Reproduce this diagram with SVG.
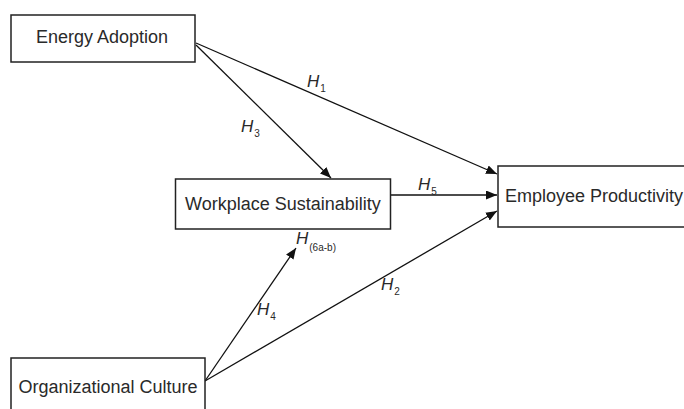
<svg xmlns="http://www.w3.org/2000/svg" width="684" height="409" viewBox="0 0 684 409">
  <style>
    .box { fill: #ffffff; stroke: #222222; stroke-width: 1.5; }
    .label { font-family: "Liberation Sans", Arial, sans-serif; font-size: 18px; fill: #2a2a2a; text-anchor: middle; }
    .conn { stroke: #111111; stroke-width: 1.3; fill: none; }
    .h { font-family: "Liberation Sans", Arial, sans-serif; font-size: 17px; font-style: italic; fill: #2a2a2a; }
    .sub { font-family: "Liberation Sans", Arial, sans-serif; font-size: 10px; font-style: normal; fill: #2a2a2a; }
  </style>
  <defs>
    <marker id="arrow" markerUnits="userSpaceOnUse" markerWidth="12" markerHeight="10" refX="11" refY="4.5" orient="auto">
      <path d="M0,0 L11,4.5 L0,9 Z" fill="#111111"/>
    </marker>
  </defs>
  <rect width="684" height="409" fill="#ffffff"/>

  <g id="connectors">
    <line class="conn" x1="196" y1="43" x2="497" y2="174" marker-end="url(#arrow)"/>
    <line class="conn" x1="196" y1="45" x2="331" y2="178" marker-end="url(#arrow)"/>
    <line class="conn" x1="390" y1="195" x2="497" y2="195" marker-end="url(#arrow)"/>
    <line class="conn" x1="205" y1="381" x2="497" y2="211" marker-end="url(#arrow)"/>
    <line class="conn" x1="205" y1="381" x2="296" y2="248" marker-end="url(#arrow)"/>
  </g>

  <g id="labels">
    <text class="h" x="307" y="87">H<tspan class="sub" dx="1" dy="5">1</tspan></text>
    <text class="h" x="241" y="132">H<tspan class="sub" dx="1" dy="5">3</tspan></text>
    <text class="h" x="418" y="190">H<tspan class="sub" dx="1" dy="5">5</tspan></text>
    <text class="h" x="296" y="244">H<tspan class="sub" dx="1" dy="7">(6a-b)</tspan></text>
    <text class="h" x="257" y="315">H<tspan class="sub" dx="1" dy="5">4</tspan></text>
    <text class="h" x="381" y="290">H<tspan class="sub" dx="1" dy="5">2</tspan></text>
  </g>

  <g id="energy-adoption">
    <rect class="box" x="11" y="15" width="184" height="47"/>
    <text class="label" x="102" y="43">Energy Adoption</text>
  </g>

  <g id="workplace-sustainability">
    <rect class="box" x="175.5" y="179" width="215" height="50"/>
    <text class="label" x="283" y="210">Workplace Sustainability</text>
  </g>

  <g id="employee-productivity">
    <rect class="box" x="498" y="166" width="200" height="61"/>
    <text class="label" x="594" y="202">Employee Productivity</text>
  </g>

  <g id="organizational-culture">
    <rect class="box" x="11" y="358" width="194" height="60"/>
    <text class="label" x="108" y="393">Organizational Culture</text>
  </g>
</svg>
